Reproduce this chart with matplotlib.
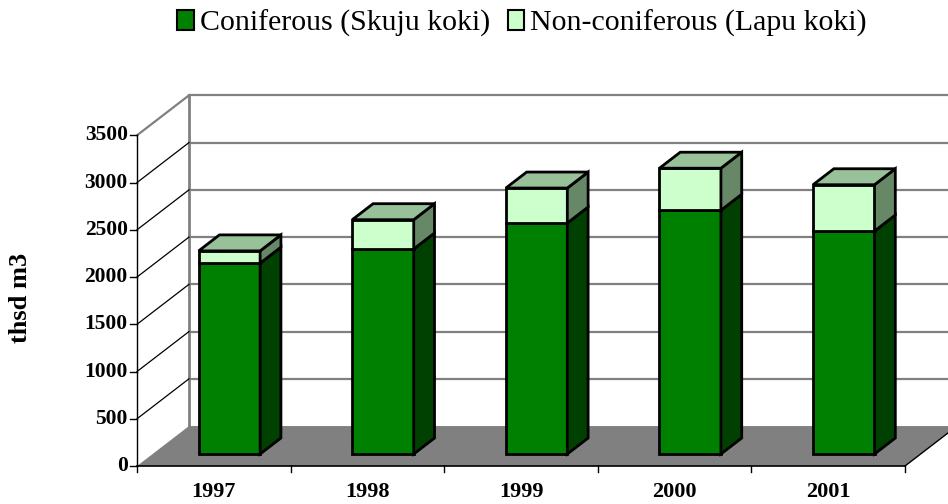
import matplotlib.pyplot as plt
from matplotlib.patches import Polygon, Patch

years = ['1997', '1998', '1999', '2000', '2001']
coniferous = [2020, 2170, 2445, 2580, 2360]
non_coniferous = [130, 310, 370, 445, 490]
yticks = [0, 500, 1000, 1500, 2000, 2500, 3000, 3500]

plt.rcParams['font.family'] = ['Liberation Serif', 'DejaVu Serif']

# fake 3D: depth offset in data units (categories, thsd m3)
DX = 0.3385
DY = 423
YMAX = 3500
N = len(years)

def P(x, v, d):
    return (x + d * DX, v + d * DY)

fig = plt.figure(figsize=(9.48, 5.04), dpi=100)
ax = fig.add_axes([0, 0, 1, 1])
ax.set_xlim(-0.892, 5.280)
ax.set_ylim(-402, 4932)
ax.axis('off')

# floor
ax.add_patch(Polygon([P(0, 0, 0), P(N, 0, 0), P(N, 0, 1), P(0, 0, 1)],
                     facecolor='#808080', edgecolor='none', zorder=1))

# back wall gridlines
for v in yticks[1:]:
    xs, ys = zip(P(0, v, 1), P(N, v, 1))
    ax.plot(xs, ys, color='#808080', lw=1.6, zorder=2)
xs, ys = zip(P(0, 0, 1), P(0, YMAX, 1))
ax.plot(xs, ys, color='#808080', lw=2, zorder=2)

# side wall gridlines
for v in yticks[1:]:
    xs, ys = zip(P(0, v, 0), P(0, v, 1))
    c = '#808080' if v == YMAX else 'black'
    ax.plot(xs, ys, color=c, lw=0.9 if v < YMAX else 1.6, zorder=2)

# front value axis
ax.plot([0, 0], [0, YMAX], color='black', lw=1, zorder=3)
for v in yticks:
    ax.plot([-0.046, 0], [v, v], color='black', lw=1, zorder=3)
    ax.text(-0.06, v, str(v), ha='right', va='center', fontsize=15.5,
            fontweight='bold')

# category axis
ax.plot([0, N], [0, 0], color='black', lw=1.2, zorder=3)
xs, ys = zip(P(N, 0, 0), P(N, 0, 1))
ax.plot(xs, ys, color='black', lw=1, zorder=3)
for i in range(N + 1):
    ax.plot([i, i], [0, -65], color='black', lw=1, zorder=3)
for i, yr in enumerate(years):
    ax.text(i + 0.5, -275, yr, ha='center', va='center', fontsize=16,
            fontweight='bold')

# bars
w = 0.4
d0, d1 = 0.3, 0.7
segs = [(coniferous, '#008000', '#004000', '#006000'),
        (non_coniferous, '#CCFFCC', '#668866', '#99C199')]
for i in range(N):
    x0 = i + 0.5 - w / 2
    x1 = i + 0.5 + w / 2
    b = 0
    for k, (vals, front, side, top) in enumerate(segs):
        t = b + vals[i]
        kw = dict(edgecolor='black', lw=2, joinstyle='miter', zorder=5)
        ax.add_patch(Polygon([P(x0, b, d0), P(x1, b, d0), P(x1, t, d0), P(x0, t, d0)],
                             facecolor=front, **kw))
        ax.add_patch(Polygon([P(x1, b, d0), P(x1, b, d1), P(x1, t, d1), P(x1, t, d0)],
                             facecolor=side, **kw))
        if k == len(segs) - 1:
            ax.add_patch(Polygon([P(x0, t, d0), P(x1, t, d0), P(x1, t, d1), P(x0, t, d1)],
                                 facecolor=top, **kw))
        b = t

# axis title
fig.text(21 / 948, 1 - 298 / 504, 'thsd m3', rotation=90, ha='center',
         va='center', fontsize=19, fontweight='bold')

handles = [Patch(facecolor='#008000', edgecolor='black', lw=1.5),
           Patch(facecolor='#CCFFCC', edgecolor='black', lw=1.5)]
fig.legend(handles, ['Coniferous (Skuju koki)', 'Non-coniferous (Lapu koki)'],
           loc='center', bbox_to_anchor=(522 / 948, 1 - 23 / 504), ncol=2,
           frameon=False, fontsize=21.5, handlelength=0.55, handleheight=0.65,
           handletextpad=0.2, columnspacing=0.6, borderpad=0)

fig.savefig('out.png', dpi=100)
